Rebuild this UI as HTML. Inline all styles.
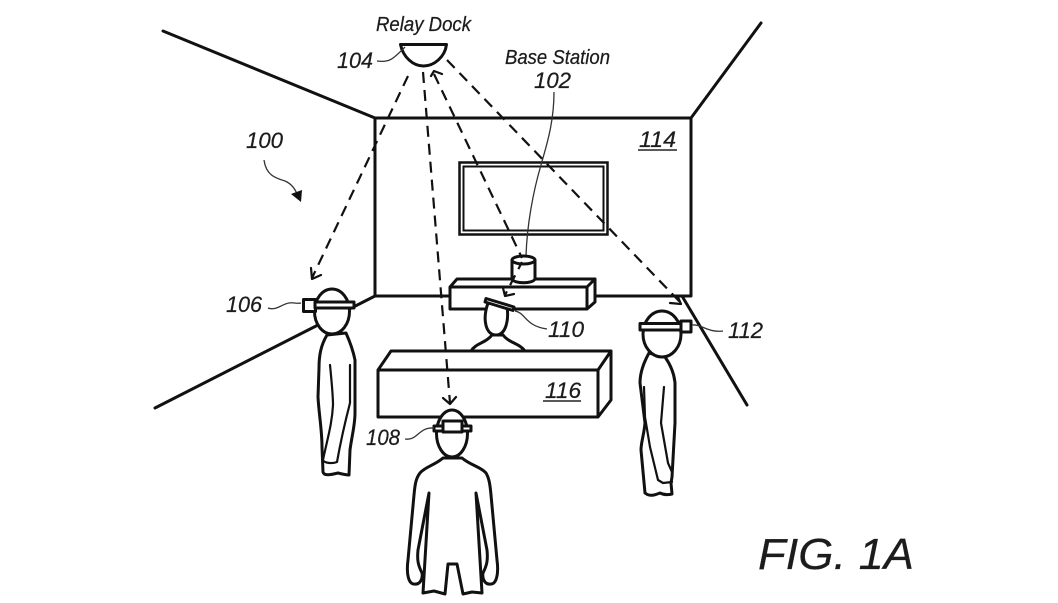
<!DOCTYPE html>
<html><head><meta charset="utf-8"><style>
html,body{margin:0;padding:0;background:#fff}
svg{display:block}
text{font-family:"Liberation Sans",sans-serif;font-style:italic;fill:#1c1c1c;stroke:#1c1c1c;stroke-width:.25}
.l{fill:none;stroke:#111;stroke-width:3;stroke-linejoin:round;stroke-linecap:round}
.w{fill:#fff;stroke:#111;stroke-width:3;stroke-linejoin:round;stroke-linecap:round}
.d{fill:none;stroke:#111;stroke-width:2.200;stroke-dasharray:11 7}
.a{fill:none;stroke:#111;stroke-width:2.200;stroke-linecap:round;stroke-linejoin:round}
.b{fill:none;stroke:#111;stroke-width:2.500;stroke-linecap:round;stroke-linejoin:round}
.t{fill:none;stroke:#333;stroke-width:1.300}
</style></head><body>
<svg width="1058" height="603" viewBox="0 0 1058 603" xmlns="http://www.w3.org/2000/svg">
<rect width="1058" height="603" fill="#fff"/>
<!-- room -->
<path class="l" d="M163 31L375 118H691V296H375V118M375 296L155 408M691 118L761 23M682 296L747 405"/>
<!-- TV -->
<rect x="459.500" y="162.500" width="148" height="72" fill="none" stroke="#111" stroke-width="2.500"/>
<rect x="463.500" y="166.500" width="140" height="64" fill="none" stroke="#111" stroke-width="2"/>
<!-- leader 102 -->
<path class="t" d="M554 92C554 125 545 150 541 165C533 192 527 225 526 256"/>
<!-- shelf -->
<path class="w" d="M450 287L457 279H595V302L587 309H450ZM450 287H587L595 279M587 287V309"/>
<!-- base station -->
<path class="w" d="M512 260V279C514 284 533 284 535 279V260"/>
<ellipse class="w" cx="523.500" cy="260" rx="11.500" ry="4"/>
<!-- person 110 -->
<path class="w" d="M471 351C476 343 486 343 492 335H503C509 343 519 343 525 351Z"/>
<path class="w" d="M488 303C482 320 486 335 496 335C506 335 509 320 507 306Z"/>
<path class="w" stroke-width="2" d="M486 298.500L514 307L513 310.500L485 302Z"/>
<path class="t" d="M515 311C526 313 525 326 547 329"/>
<!-- desk -->
<path class="w" d="M378 370L391 351H611V400L598 417H378ZM378 370H598L611 351M598 370V417"/>
<path stroke="#222" stroke-width="1.500" d="M543 401H581"/>
<path stroke="#222" stroke-width="1.500" d="M638 150H677"/>
<!-- dock -->
<path class="w" d="M400.500 44.500H446.500C445 57 434 66 423.500 66C413 66 403 57 400.500 44.500Z"/>
<path class="t" d="M377 61C390 63 394 58 405 47"/>
<!-- dashed -->
<path class="d" d="M408 76L312 278"/>
<path class="d" d="M423 72L450 403"/>
<path class="d" d="M434 74L522 258"/>
<path class="d" stroke-dashoffset="3" d="M522 262L505 295"/>
<path class="d" d="M447 60L680 302"/>
<path class="a" d="M431 76L434 71L442 74M311 268L312 279L321 275M443 398L450 404L456 397M503 288L505 296L514 294M670 303L681 304L678 297"/>
<!-- arrow 100 -->
<path class="t" stroke-width="1.600" d="M264 160C266 175 275 178 285 181C292 184 296 190 298 197"/>
<path d="M291 194L302 190L301 202Z" fill="#111"/>
<!-- person 106 -->
<path class="w" d="M327 335C321 345 319 355 319 368L318 397C319 415 322 430 322 447L323 472C324 476 330 475 338 473C342 474 346 475 349 475L350 450C352 435 355 425 355 413V360C353 350 350 342 346 333Z"/>
<path class="a" d="M330 365C332 385 333 395 333 405C332 425 327 440 323 460C324 463 332 464 337 462C340 445 343 430 350 403V365"/>
<ellipse class="w" cx="332" cy="311.500" rx="17.500" ry="22.500"/>
<rect class="w" stroke-width="2" x="303.500" y="299.500" width="12" height="12"/>
<rect class="w" stroke-width="2" x="315" y="302" width="39" height="6"/>
<path class="t" d="M268 308C276 311 282 304 289 303C293 302 296 304 301 303"/>
<!-- person 108 -->
<path class="w" d="M443 458C435 465 425 467 420 473C416 478 415 484 414 495L408 560C406 575 409 584 414 584C420 585 423 579 422 573C418 565 417 560 418 550L429 493L423 593L434 591L445 594L448 564H457L463 594L472 592L482 593L476 493L487 550C488 560 487 565 483 573C482 579 485 585 491 584C496 584 499 575 497 560L491 495C490 484 489 478 486 473C481 467 470 465 462 458Z"/>
<ellipse class="w" cx="452" cy="433.500" rx="15.500" ry="23.500"/>
<rect class="w" stroke-width="2" x="434" y="426" width="37" height="5"/>
<rect class="w" stroke-width="2.500" x="443" y="421" width="19" height="11"/>
<path class="t" d="M405 439C418 441 418 427 434 428"/>
<!-- person 112 -->
<path class="w" d="M649 353C644 362 640 372 640 383L645 423C644 435 641 442 641 450L645 493C650 497 655 495 660 493C664 495 668 495 672 494L671 483L672 477L675 423V383C674 372 670 364 665 357Z"/>
<path class="a" d="M644 387L645 417L650 447L658 480L663 483L672 482M664 387L661 423L668 463L672 472"/>
<ellipse class="w" cx="662" cy="334" rx="19" ry="23"/>
<rect class="w" stroke-width="2" x="640" y="323.500" width="42" height="6.500"/>
<rect class="w" stroke-width="2" x="681" y="321" width="10" height="11"/>
<path class="t" d="M692 325C702 324 708 333 723 331"/>
<!-- labels -->
<text x="376" y="31" font-size="20" textLength="95" lengthAdjust="spacingAndGlyphs">Relay Dock</text>
<text x="505" y="64" font-size="20" textLength="105" lengthAdjust="spacingAndGlyphs">Base Station</text>
<text x="534" y="88" font-size="22" textLength="37" lengthAdjust="spacingAndGlyphs">102</text>
<text x="337" y="68" font-size="22" textLength="36" lengthAdjust="spacingAndGlyphs">104</text>
<text x="246" y="148" font-size="22" textLength="37" lengthAdjust="spacingAndGlyphs">100</text>
<text x="639" y="147" font-size="22" textLength="37" lengthAdjust="spacingAndGlyphs">114</text>
<text x="545" y="398" font-size="22" textLength="36" lengthAdjust="spacingAndGlyphs">116</text>
<text x="548" y="337" font-size="22" textLength="36" lengthAdjust="spacingAndGlyphs">110</text>
<text x="728" y="338" font-size="22" textLength="35" lengthAdjust="spacingAndGlyphs">112</text>
<text x="226" y="312" font-size="22" textLength="36" lengthAdjust="spacingAndGlyphs">106</text>
<text x="366" y="445" font-size="22" textLength="34" lengthAdjust="spacingAndGlyphs">108</text>
<text x="758" y="569" font-size="44" textLength="156" lengthAdjust="spacingAndGlyphs">FIG. 1A</text>
</svg>
</body></html>
